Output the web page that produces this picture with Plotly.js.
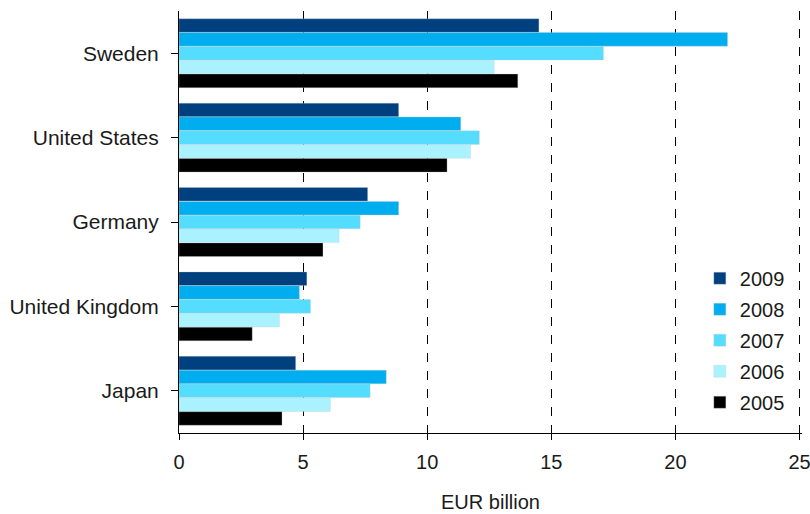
<!DOCTYPE html>
<html>
<head>
<meta charset="utf-8">
<script src="https://cdn.plot.ly/plotly-3.0.1.min.js"></script>
<style>html,body{margin:0;padding:0;background:#fff;}#chart{width:810px;height:514px;}</style>
</head>
<body>
<div id="chart"></div>
<script>
const countries = ["Sweden", "United States", "Germany", "United Kingdom", "Japan"];
const years = ["2009", "2008", "2007", "2006", "2005"];
const v2009 = [14.5, 8.85, 7.6, 5.15, 4.7];
const v2008 = [22.1, 11.35, 8.85, 4.85, 8.35];
const v2007 = [17.1, 12.1, 7.3, 5.3, 7.7];
const v2006 = [12.7, 11.75, 6.45, 4.05, 6.1];
const v2005 = [13.65, 10.8, 5.8, 2.95, 4.15];
const xTicks = [0, 5, 10, 15, 20, 25];
const colors = ["#00407f", "#00aeef", "#55ddff", "#aaf2ff", "#000000"];
const series = [v2009, v2008, v2007, v2006, v2005];

const traces = series.map((vals, i) => ({
  type: "bar",
  orientation: "h",
  name: years[i],
  legendgroup: years[i],
  x: vals,
  y: countries,
  marker: {color: colors[i], line: {color: "rgba(200,200,200,0.6)", width: 0.5}},
  hoverinfo: "x+name"
}));

const fam = "Liberation Sans, Arial, sans-serif";
const font = {family: fam, size: 20, color: "#1a1a1a"};
const yFont = {family: fam, size: 21, color: "#1a1a1a"};

const layout = {
  width: 810, height: 514,
  margin: {l: 179, r: 8, t: 11, b: 81},
  barmode: "group",
  bargap: 0.18,
  bargroupgap: 0.02,
  font: font,
  paper_bgcolor: "#fff",
  plot_bgcolor: "#fff",
  showlegend: true,
  legend: {
    x: 0.836, y: 0.413, xanchor: "left", yanchor: "top",
    font: font, traceorder: "grouped", tracegroupgap: 2,
    bgcolor: "rgba(0,0,0,0)", itemwidth: 30
  },
  xaxis: {
    range: [0, 25.1], tickvals: xTicks,
    showgrid: true, gridcolor: "#000", griddash: "dash", gridwidth: 1,
    showline: true, linecolor: "#000", linewidth: 1,
    ticks: "outside", ticklen: 6, tickcolor: "#000",
    ticklabelstandoff: 5,
    ticklabeloverflow: "allow",
    zeroline: false,
    title: {text: "EUR billion", font: font, standoff: 22},
    tickfont: font
  },
  yaxis: {
    autorange: "reversed",
    showline: true, linecolor: "#000", linewidth: 1,
    ticks: "outside", ticklen: 7, tickcolor: "#000",
    ticklabelstandoff: 8,
    showgrid: false,
    tickfont: yFont
  }
};

Plotly.newPlot("chart", traces, layout, {displayModeBar: false, staticPlot: true});
</script>
</body>
</html>
